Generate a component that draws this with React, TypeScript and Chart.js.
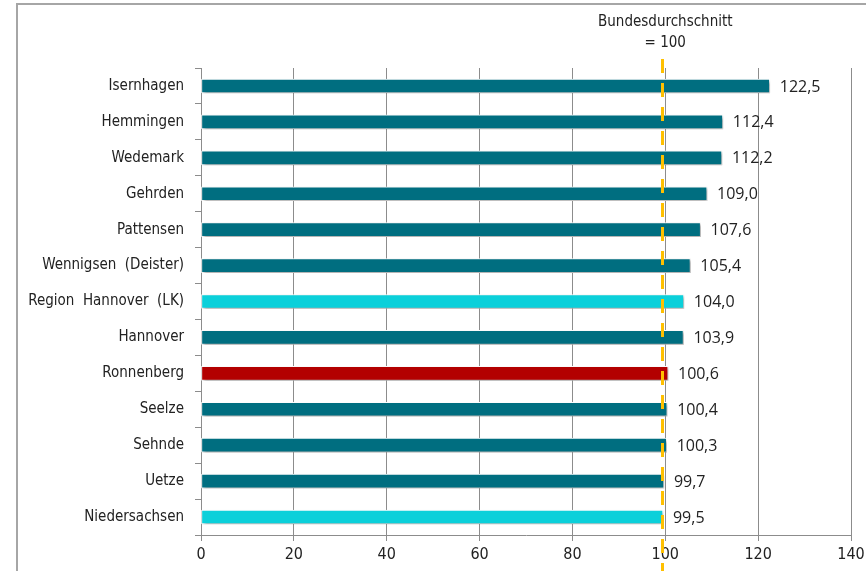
import React, { useEffect, useRef } from "react";
import { Chart, registerables } from "chart.js";

Chart.register(...registerables);

const categories = [
  "Isernhagen",
  "Hemmingen",
  "Wedemark",
  "Gehrden",
  "Pattensen",
  "Wennigsen  (Deister)",
  "Region  Hannover  (LK)",
  "Hannover",
  "Ronnenberg",
  "Seelze",
  "Sehnde",
  "Uetze",
  "Niedersachsen",
];
const values = [122.5, 112.4, 112.2, 109.0, 107.6, 105.4, 104.0, 103.9, 100.6, 100.4, 100.3, 99.7, 99.5];
const barColors = [
  "#006E80", "#006E80", "#006E80", "#006E80", "#006E80", "#006E80",
  "#0BD0DA", "#006E80", "#B30000", "#006E80", "#006E80", "#006E80", "#0BD0DA",
];
const xTicks = [0, 20, 40, 60, 80, 100, 120, 140];
const benchmarkValue = 99.4;
const benchmarkLabel = ["Bundesdurchschnitt", "= 100"];

const LABEL_FONT = "'DejaVu Sans Condensed', 'Liberation Sans Narrow', sans-serif";
const VALUE_FONT = "'Open Sans', 'DejaVu Sans', sans-serif";

const fmt = (v: number) => v.toFixed(1).replace(".", ",");

export default function App() {
  const ref = useRef<HTMLCanvasElement | null>(null);

  useEffect(() => {
    document.body.style.margin = "0";
    const canvas = ref.current;
    if (!canvas) return;

    const framePlugin = {
      id: "frame",
      beforeDraw(chart: any) {
        const ctx = chart.ctx;
        ctx.save();
        ctx.fillStyle = "#ffffff";
        ctx.fillRect(0, 0, chart.width, chart.height);
        ctx.strokeStyle = "#A6A6A6";
        ctx.lineWidth = 2;
        ctx.beginPath();
        ctx.moveTo(17, chart.height);
        ctx.lineTo(17, 4);
        ctx.lineTo(chart.width, 4);
        ctx.stroke();
        ctx.restore();
      },
    };

    const shadowPlugin = {
      id: "barShadow",
      beforeDatasetsDraw(chart: any) {
        const ctx = chart.ctx;
        ctx.save();
        ctx.shadowColor = "rgba(0,0,0,0.35)";
        ctx.shadowOffsetX = 2;
        ctx.shadowOffsetY = 2;
        ctx.shadowBlur = 3;
      },
      afterDatasetsDraw(chart: any) {
        const ctx = chart.ctx;
        ctx.restore();
        const meta = chart.getDatasetMeta(0);
        ctx.save();
        ctx.font = `16px ${VALUE_FONT}`;
        ctx.fillStyle = "#222222";
        ctx.textAlign = "left";
        ctx.textBaseline = "middle";
        meta.data.forEach((bar: any, i: number) => {
          ctx.fillText(fmt(values[i]), bar.x + 10, bar.y + 1);
        });
        ctx.restore();

        // benchmark dashed line
        const xs = chart.scales.x;
        const x = xs.getPixelForValue(benchmarkValue);
        ctx.save();
        ctx.strokeStyle = "#FFC000";
        ctx.lineWidth = 3;
        ctx.setLineDash([14, 10]);
        ctx.beginPath();
        ctx.moveTo(x, 59);
        ctx.lineTo(x, chart.height);
        ctx.stroke();
        ctx.restore();

        // label
        const xl = xs.getPixelForValue(100);
        ctx.save();
        ctx.font = `15px ${LABEL_FONT}`;
        ctx.fillStyle = "#222222";
        ctx.textAlign = "center";
        ctx.textBaseline = "middle";
        ctx.fillText(benchmarkLabel[0], xl, 22);
        ctx.fillText(benchmarkLabel[1], xl, 43);
        ctx.restore();
      },
    };

    const chart = new Chart(canvas, {
      type: "bar",
      data: {
        labels: categories,
        datasets: [
          {
            data: values,
            backgroundColor: barColors,
            borderColor: "#ffffff",
            borderWidth: 1,
            barThickness: 14,
            borderSkipped: false,
          },
        ],
      },
      options: {
        indexAxis: "y",
        responsive: false,
        animation: false,
        devicePixelRatio: 1,
        layout: { padding: { left: 0, right: 15, top: 68, bottom: 0 } },
        plugins: {
          legend: { display: false },
          tooltip: { enabled: false },
          title: { display: false },
        },
        scales: {
          x: {
            min: 0,
            max: 140,
            afterBuildTicks: (axis: any) => {
              axis.ticks = xTicks.map((v) => ({ value: v }));
            },
            afterFit: (axis: any) => {
              axis.height = 36;
              axis.paddingRight = 0;
              axis.paddingLeft = 0;
            },
            grid: {
              display: true,
              drawOnChartArea: true,
              drawTicks: true,
              tickLength: 6,
              color: "#8C8C8C",
              lineWidth: 1,
            },
            border: { display: true, color: "#8C8C8C", width: 1 },
            ticks: {
              color: "#222222",
              font: { family: LABEL_FONT, size: 16 },
              padding: 4,
              maxRotation: 0,
            },
          },
          y: {
            afterFit: (axis: any) => {
              axis.width = 201;
            },
            grid: {
              display: true,
              drawOnChartArea: false,
              drawTicks: true,
              tickLength: 6,
              offset: true,
              color: "#8C8C8C",
            },
            border: { display: true, color: "#8C8C8C", width: 1 },
            ticks: {
              color: "#222222",
              font: { family: LABEL_FONT, size: 15 },
              padding: 11,
              autoSkip: false,
            },
          },
        },
      },
      plugins: [framePlugin, shadowPlugin],
    } as any);

    return () => chart.destroy();
  }, []);

  return (
    <div style={{ width: 866, height: 571 }}>
      <canvas ref={ref} width={866} height={571} style={{ display: "block", width: 866, height: 571 }} />
    </div>
  );
}
